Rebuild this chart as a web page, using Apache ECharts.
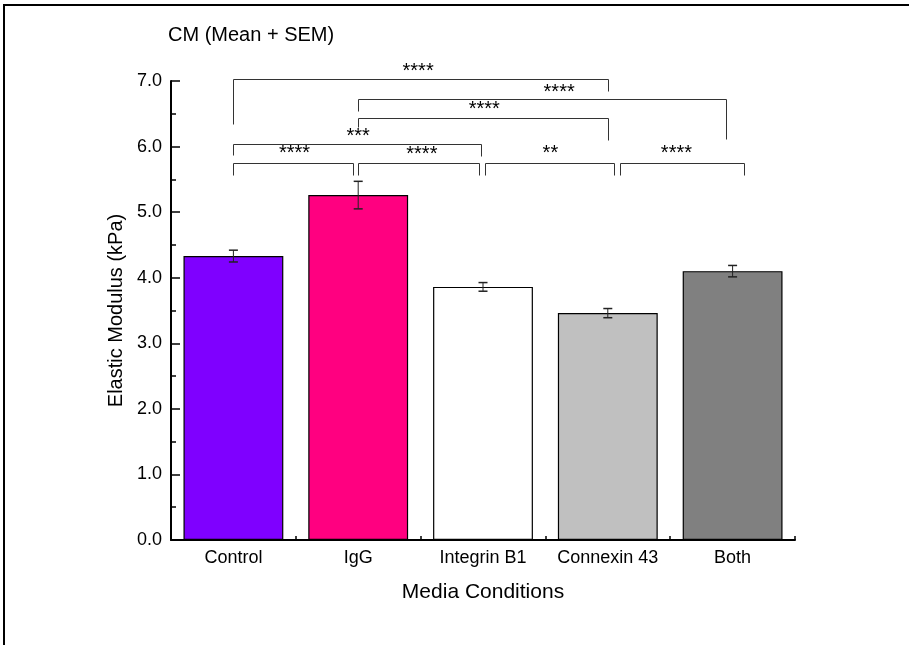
<!DOCTYPE html>
<html><head><meta charset="utf-8">
<script src="https://cdn.jsdelivr.net/npm/echarts@6/dist/echarts.min.js"></script>
<style>html,body{margin:0;padding:0;background:#fff}#c{width:909px;height:645px}</style>
</head><body><div id="c"></div>
<script>
const categories = ['Control', 'IgG', 'Integrin B1', 'Connexin 43', 'Both'];
const means = [4.33, 5.26, 3.86, 3.46, 4.10];
const sems = [0.09, 0.21, 0.066, 0.07, 0.087];
const barColors = ['#7F00FF', '#FF0080', '#FFFFFF', '#C0C0C0', '#808080'];
const yMin = 0, yMax = 7, yStep = 1;
// significance brackets: [fromPos, toPos, level, leftEnd, rightEnd, label, labelPos, labelLevel]
const brackets = [
  [0.00, 3.00, 7.03, 6.34, 6.85, '****', 1.48, 7.14],
  [1.00, 3.95, 6.72, 6.55, 6.12, '****', 2.61, 6.83],
  [1.00, 3.00, 6.44, 6.30, 6.10, '****', 2.01, 6.56],
  [0.00, 1.98, 6.035, 5.87, 5.86, '***', 1.00, 6.15],
  [0.00, 0.96, 5.745, 5.57, 5.57, '****', 0.49, 5.90],
  [1.00, 1.97, 5.745, 5.57, 5.57, '****', 1.51, 5.88],
  [2.02, 3.05, 5.745, 5.57, 5.57, '**', 2.54, 5.89],
  [3.10, 4.09, 5.745, 5.57, 5.57, '****', 3.55, 5.89]
];

const FONT = '"Liberation Sans", Arial, sans-serif';
const chart = echarts.init(document.getElementById('c'), null, {renderer: 'canvas'});
chart.setOption({
  backgroundColor: '#fff',
  animation: false,
  title: {
    text: 'CM (Mean + SEM)', left: 168, top: 25, padding: 0,
    textStyle: {fontFamily: FONT, fontSize: 20, fontWeight: 'normal', color: '#000'}
  },
  grid: {left: 171, right: 114, top: 81, bottom: 105, containLabel: false},
  xAxis: [{
    type: 'category', data: categories,
    name: 'Media Conditions', nameLocation: 'middle', nameGap: 42,
    nameTextStyle: {fontFamily: FONT, fontSize: 21, color: '#000'},
    axisLine: {lineStyle: {color: '#000', width: 2}},
    axisTick: {inside: true, alignWithLabel: true, length: 8, lineStyle: {color: '#000', width: 1.5}},
    axisLabel: {fontFamily: FONT, fontSize: 18, color: '#000', margin: 9, interval: 0, hideOverlap: false},
    splitLine: {show: false}
  }, {
    type: 'value', min: 0, max: categories.length, interval: 1, position: 'bottom',
    axisLine: {show: false}, axisLabel: {show: false}, splitLine: {show: false},
    axisTick: {show: true, inside: true, length: 4, lineStyle: {color: '#000', width: 1.5}}
  }],
  yAxis: {
    type: 'value', min: yMin, max: yMax, interval: yStep,
    name: 'Elastic Modulus (kPa)', nameLocation: 'middle', nameGap: 43,
    nameTextStyle: {fontFamily: FONT, fontSize: 20, color: '#000'},
    axisLine: {show: true, lineStyle: {color: '#000', width: 2}},
    axisTick: {show: true, inside: true, length: 9, lineStyle: {color: '#000', width: 1.5}},
    minorTick: {show: true, splitNumber: 2, length: 5, lineStyle: {color: '#000', width: 1.5}},
    axisLabel: {fontFamily: FONT, fontSize: 18, color: '#000', margin: 9, formatter: v => v.toFixed(1)},
    splitLine: {show: false}
  },
  series: [{
    type: 'bar', barWidth: '80%', xAxisIndex: 0,
    data: means.map((m, i) => ({value: m, itemStyle: {color: barColors[i], borderColor: '#000', borderWidth: 1.2}}))
  }, {
    type: 'custom', xAxisIndex: 0, z: 5,
    data: means.map((m, i) => [i, m, sems[i]]),
    renderItem: (params, api) => {
      const i = api.value(0), m = api.value(1), s = api.value(2);
      const top = api.coord([i, m + s]), bot = api.coord([i, m - s]);
      const hw = 4.5, st = {stroke: '#222', lineWidth: 1};
      return {type: 'group', children: [
        {type: 'line', shape: {x1: top[0], y1: top[1], x2: bot[0], y2: bot[1]}, style: st},
        {type: 'line', shape: {x1: top[0] - hw, y1: top[1], x2: top[0] + hw, y2: top[1]}, style: {stroke: '#222', lineWidth: 1.5}},
        {type: 'line', shape: {x1: bot[0] - hw, y1: bot[1], x2: bot[0] + hw, y2: bot[1]}, style: {stroke: '#222', lineWidth: 1.5}}
      ]};
    }
  }, {
    type: 'custom', xAxisIndex: 0, z: 6, clip: false,
    data: brackets.map((b, i) => [i]),
    renderItem: (params, api) => {
      const b = brackets[params.dataIndex];
      const bw = api.size([1, 0])[0];
      const x0 = api.coord([0, 0])[0];
      const px = p => Math.round(x0 + p * bw) + 0.5;
      const py = v => Math.round(api.coord([0, v])[1]) + 0.5;
      return {type: 'group', children: [
        {type: 'polyline', shape: {points: [[px(b[0]), py(b[3])], [px(b[0]), py(b[2])], [px(b[1]), py(b[2])], [px(b[1]), py(b[4])]]},
          style: {stroke: '#333', lineWidth: 1, fill: null}},
        {type: 'text', style: {text: b[5], x: x0 + b[6] * bw, y: api.coord([0, b[7]])[1], align: 'center', verticalAlign: 'middle',
          font: '20px ' + FONT, fill: '#000'}}
      ]};
    }
  }],
  graphic: [{
    type: 'polyline', silent: true,
    shape: {points: [[4, 645], [4, 5], [909, 5]]},
    style: {stroke: '#000', lineWidth: 2, fill: null}
  }]
});
</script></body></html>
